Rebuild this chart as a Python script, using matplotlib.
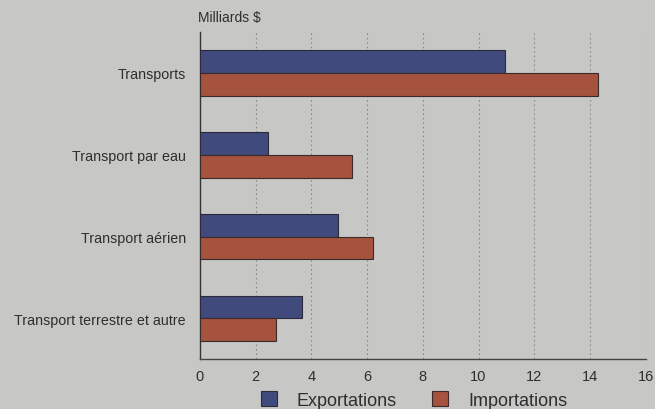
import matplotlib.pyplot as plt
import numpy as np

plt.rcParams['font.family'] = ['Liberation Sans', 'DejaVu Sans']

categories = ["Transports", "Transport par eau", "Transport aérien",
              "Transport terrestre et autre"]
exportations = [10.95, 2.45, 4.95, 3.65]
importations = [14.3, 5.45, 6.2, 2.75]
xticks = [0, 2, 4, 6, 8, 10, 12, 14, 16]

bg = "#c7c7c5"
blue = "#414a7c"
red = "#a5533f"

fig = plt.figure(figsize=(6.55, 4.1), dpi=100, facecolor=bg)
ax = fig.add_axes([0.305, 0.122, 0.681, 0.797], facecolor=bg)

y = np.arange(len(categories))
h = 0.28
ax.barh(y - h / 2, exportations, height=h, color=blue, edgecolor="#2a2a3a",
        linewidth=0.8, label="Exportations", zorder=3)
ax.barh(y + h / 2, importations, height=h, color=red, edgecolor="#3a2a2a",
        linewidth=0.8, label="Importations", zorder=3)

ax.set_ylim(3.495, -0.495)
ax.set_xlim(0, 16)
ax.set_xticks(xticks)
ax.set_yticks(y)
ax.set_yticklabels(categories, fontsize=10.3, color="#2e2e2e")
ax.tick_params(axis='x', labelsize=10.5, colors="#2e2e2e", length=0, pad=7)
ax.tick_params(axis='y', length=0, pad=10)

for t in xticks[1:]:
    ax.axvline(t, color="#8a8a8a", linestyle=(0, (1.5, 2.5)), linewidth=0.8,
               zorder=1)

for s in ["top", "right"]:
    ax.spines[s].set_visible(False)
ax.spines["left"].set_color("#333333")
ax.spines["bottom"].set_color("#444444")
ax.spines["left"].set_linewidth(1.0)
ax.spines["bottom"].set_linewidth(1.0)

fig.text(0.302, 0.938, "Milliards $", fontsize=10, color="#2e2e2e",
         ha="left", va="bottom")

leg = fig.legend(loc="lower center", bbox_to_anchor=(0.632, -0.03), ncol=2,
                 frameon=False, fontsize=13, handlelength=0.9,
                 handleheight=0.9, columnspacing=1.95, handletextpad=1.1,
                 borderpad=0.2)
for txt in leg.get_texts():
    txt.set_color("#2e2e2e")

fig.savefig("out.png", dpi=100, facecolor=bg)
